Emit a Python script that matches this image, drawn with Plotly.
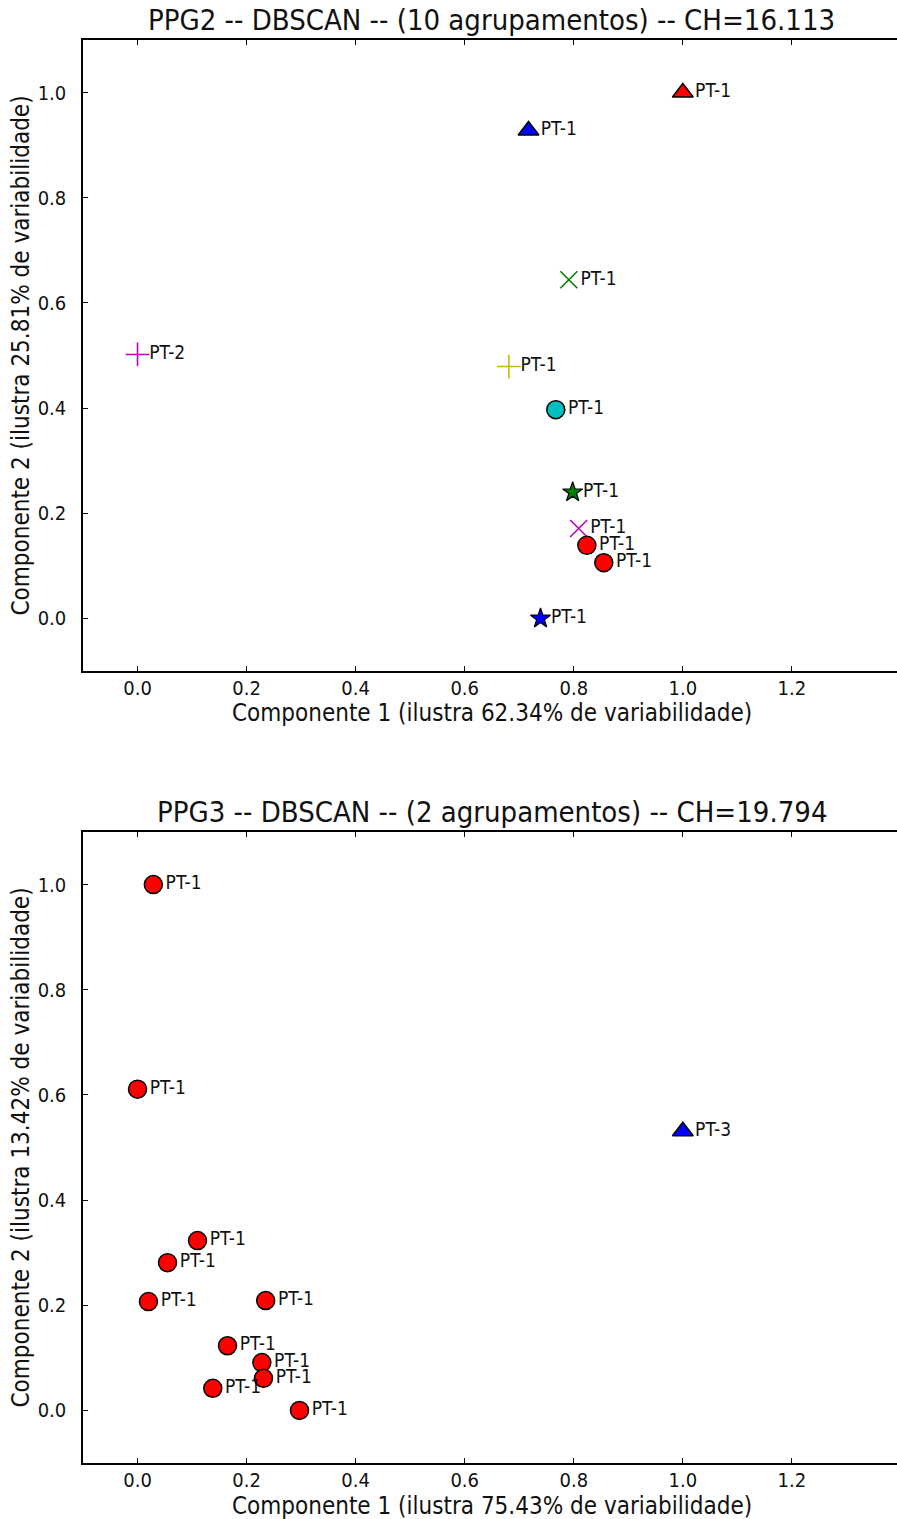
import plotly.graph_objects as go

# ---- PPG2: projected points, cluster id per point, point labels ----
ppg2_x = [1.000, 0.717, 0.791, 0.000, 0.681, 0.767, 0.798, 0.809, 0.824, 0.855, 0.739]
ppg2_y = [1.000, 0.928, 0.644, 0.502, 0.479, 0.397, 0.240, 0.171, 0.139, 0.106, 0.000]
ppg2_cluster = [0, 1, 2, 3, 4, 5, 6, 7, 8, 8, 9]
ppg2_labels = ["PT-1", "PT-1", "PT-1", "PT-2", "PT-1", "PT-1", "PT-1", "PT-1", "PT-1", "PT-1", "PT-1"]
ppg2_title = "PPG2 -- DBSCAN -- (10 agrupamentos) -- CH=16.113"
ppg2_xlabel = "Componente 1 (ilustra 62.34% de variabilidade)"
ppg2_ylabel = "Componente 2 (ilustra 25.81% de variabilidade)"

# ---- PPG3 ----
ppg3_x = [0.029, 0.000, 1.000, 0.110, 0.055, 0.020, 0.235, 0.165, 0.228, 0.231, 0.138, 0.297]
ppg3_y = [1.000, 0.611, 0.531, 0.323, 0.281, 0.207, 0.209, 0.123, 0.091, 0.061, 0.042, 0.000]
ppg3_cluster = [8, 8, 1, 8, 8, 8, 8, 8, 8, 8, 8, 8]
ppg3_labels = ["PT-1", "PT-1", "PT-3", "PT-1", "PT-1", "PT-1", "PT-1", "PT-1", "PT-1", "PT-1", "PT-1", "PT-1"]
ppg3_title = "PPG3 -- DBSCAN -- (2 agrupamentos) -- CH=19.794"
ppg3_xlabel = "Componente 1 (ilustra 75.43% de variabilidade)"
ppg3_ylabel = "Componente 2 (ilustra 13.42% de variabilidade)"

tick_vals_x = [0.0, 0.2, 0.4, 0.6, 0.8, 1.0, 1.2]
tick_vals_y = [0.0, 0.2, 0.4, 0.6, 0.8, 1.0]

# marker style for each cluster id (classic matplotlib colour letters)
STYLES = {
    0: dict(symbol="triangle-up", color="#FF0000", size=18, line=dict(color="black", width=1.5)),
    1: dict(symbol="triangle-up", color="#0000FF", size=18, line=dict(color="black", width=1.5)),
    2: dict(symbol="x-thin-open", color="#008000", size=17, line=dict(color="#1a8c1a", width=1.6)),
    3: dict(symbol="cross-thin-open", color="#BF00BF", size=17, line=dict(color="#BF00BF", width=1.6)),
    4: dict(symbol="cross-thin-open", color="#BFBF00", size=17, line=dict(color="#BFBF00", width=1.6)),
    5: dict(symbol="circle", color="#00BFBF", size=18, line=dict(color="black", width=1.5)),
    6: dict(symbol="star", color="#008000", size=15, line=dict(color="black", width=1.2)),
    7: dict(symbol="x-thin-open", color="#BF00BF", size=17, line=dict(color="#BF00BF", width=1.6)),
    8: dict(symbol="circle", color="#FF0000", size=18, line=dict(color="black", width=1.5)),
    9: dict(symbol="star", color="#0000FF", size=15, line=dict(color="black", width=1.2)),
}

FONT = "DejaVu Sans Condensed, DejaVu Sans"
W, H = 897, 1519

# pixel layout of the two panels
LEFT = 83
PANELS = [
    dict(top=40, bottom=671, title_y=20, xlabel_y=712),
    dict(top=832, bottom=1463, title_y=812, xlabel_y=1505),
]

fig = go.Figure()


def add_panel(idx, xs, ys, clusters, labels):
    xa = "x" if idx == 0 else "x2"
    ya = "y" if idx == 0 else "y2"
    for cid in sorted(set(clusters), key=lambda c: clusters.index(c)):
        sel = [i for i, c in enumerate(clusters) if c == cid]
        st = STYLES[cid]
        fig.add_trace(go.Scatter(
            x=[xs[i] for i in sel],
            y=[ys[i] for i in sel],
            text=[labels[i] for i in sel],
            mode="markers+text",
            textposition="middle right",
            textfont=dict(family=FONT, size=19, color="#111111"),
            marker=dict(symbol=st["symbol"], color=st["color"], size=st["size"], line=st["line"]),
            xaxis=xa, yaxis=ya,
            showlegend=False,
            cliponaxis=False,
        ))


add_panel(0, ppg2_x, ppg2_y, ppg2_cluster, ppg2_labels)
add_panel(1, ppg3_x, ppg3_y, ppg3_cluster, ppg3_labels)

x_dom = [LEFT / W, 1.0]
x_range = [-0.1, -0.1 + (W - LEFT) / 545.3]


def ydom(p):
    return [(H - p["bottom"]) / H, (H - p["top"]) / H]


axis_common = dict(
    showgrid=False, zeroline=False, showline=True, linecolor="black", linewidth=1.5,
    ticks="inside", ticklen=5, tickwidth=1, tickcolor="black",
    tickfont=dict(family=FONT, size=20, color="#111111"),
)

layout = dict(
    width=W, height=H,
    margin=dict(l=0, r=0, t=0, b=0),
    paper_bgcolor="white", plot_bgcolor="white",
    showlegend=False,
)

for k, p in enumerate(PANELS):
    sx = "" if k == 0 else "2"
    yname = "y" if k == 0 else "y2"
    xname = "x" if k == 0 else "x2"
    layout["xaxis" + sx] = dict(
        axis_common, domain=x_dom, range=x_range, anchor=yname,
        tickvals=tick_vals_x, ticktext=[f"{v:.1f}" for v in tick_vals_x],
        mirror="ticks", ticklabelstandoff=-2,
    )
    layout["yaxis" + sx] = dict(
        axis_common, domain=ydom(p), range=[-0.1, 1.1], anchor=xname,
        tickvals=tick_vals_y, ticktext=[f"{v:.1f}" for v in tick_vals_y],
        ticklabelstandoff=11,
    )
    # right-hand tick marks (the right spine falls just outside the page)
    layout["yaxis" + str(3 + k)] = dict(
        domain=ydom(p), range=[-0.1, 1.1], overlaying=yname, anchor=xname, side="right",
        showgrid=False, zeroline=False, showline=False, showticklabels=False,
        ticks="inside", ticklen=5, tickwidth=1, tickcolor="black",
        tickvals=tick_vals_y,
    )

fig.update_layout(**layout)

titles = [(ppg2_title, ppg2_xlabel, ppg2_ylabel), (ppg3_title, ppg3_xlabel, ppg3_ylabel)]
cx = (LEFT + 900) / 2 / W
for p, (t, xl, yl) in zip(PANELS, titles):
    fig.add_annotation(text=t, x=cx, y=1 - p["title_y"] / H, xref="paper", yref="paper",
                       showarrow=False, xanchor="center", yanchor="middle",
                       font=dict(family=FONT, size=29, color="#111111"))
    fig.add_annotation(text=xl, x=cx, y=1 - (p["xlabel_y"] + 1) / H, xref="paper", yref="paper",
                       showarrow=False, xanchor="center", yanchor="middle",
                       font=dict(family=FONT, size=24, color="#111111"))
    fig.add_annotation(text=yl, x=20 / W, y=1 - (p["top"] + p["bottom"]) / 2 / H,
                       xref="paper", yref="paper", textangle=-90,
                       showarrow=False, xanchor="center", yanchor="middle",
                       font=dict(family=FONT, size=24, color="#111111"))

fig.write_html("out.html")
